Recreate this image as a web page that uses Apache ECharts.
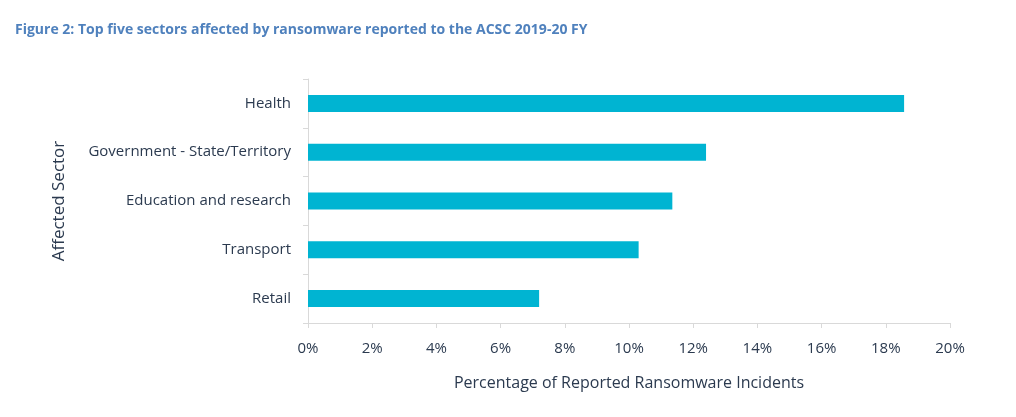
<!DOCTYPE html>
<html>
<head>
<meta charset="utf-8">
<script src="https://cdn.jsdelivr.net/npm/echarts@6/dist/echarts.min.js"></script>
<style>
  html, body { margin: 0; padding: 0; background: #fff; }
  #chart { width: 1016px; height: 417px; }
</style>
</head>
<body>
<div id="chart"></div>
<script>
var sectors = ['Retail', 'Transport', 'Education and research', 'Government - State/Territory', 'Health'];
var percents = [7.2, 10.3, 11.35, 12.4, 18.57];

var myChart = echarts.init(document.getElementById('chart'));
var axisColor = '#d9d9d9';
var textColor = '#2b3a4f';
var option = {
  animation: false,
  title: {
    text: 'Figure 2: Top five sectors affected by ransomware reported to the ACSC 2019-20 FY',
    left: 10,
    top: 18,
    textStyle: { color: '#4f81bd', fontSize: 14, fontWeight: 'bold', fontFamily: 'Open Sans' }
  },
  grid: { left: 308, right: 66, top: 79, bottom: 94 },
  xAxis: {
    type: 'value',
    min: 0,
    max: 20,
    interval: 2,
    name: 'Percentage of Reported Ransomware Incidents',
    nameLocation: 'middle',
    nameGap: 52,
    nameTextStyle: { color: textColor, fontSize: 16, fontFamily: 'Open Sans' },
    axisLine: { show: true, lineStyle: { color: axisColor } },
    axisTick: { show: true, length: 5, lineStyle: { color: axisColor } },
    splitLine: { show: false },
    axisLabel: { formatter: '{value}%', color: textColor, fontSize: 15, margin: 18, fontFamily: 'Open Sans' }
  },
  yAxis: {
    type: 'category',
    data: sectors,
    name: 'Affected Sector',
    nameLocation: 'middle',
    nameGap: 240,
    nameTextStyle: { color: textColor, fontSize: 17, fontFamily: 'Open Sans' },
    axisLine: { show: true, lineStyle: { color: axisColor } },
    axisTick: { show: true, length: 5, lineStyle: { color: axisColor } },
    axisLabel: { color: textColor, fontSize: 15, margin: 17, fontFamily: 'Open Sans' }
  },
  series: [
    {
      type: 'bar',
      data: percents,
      barWidth: 17,
      itemStyle: { color: '#00b4d2' }
    }
  ]
};
myChart.setOption(option);
</script>
</body>
</html>
